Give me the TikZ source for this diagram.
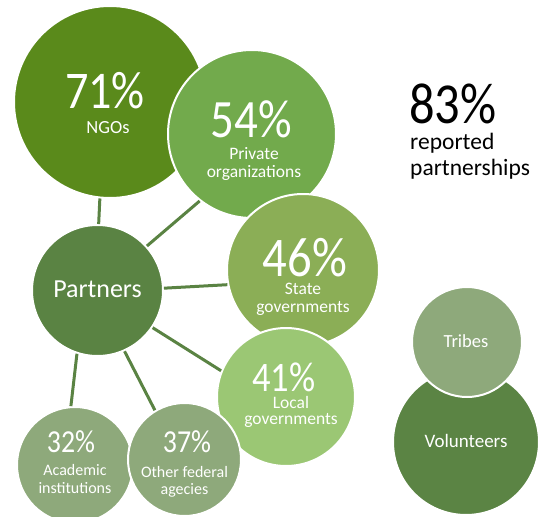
\documentclass[tikz,border=0pt]{standalone}
\usepackage{fontspec}
\setmainfont{Carlito}
\newfontfamily\pctfont[FakeStretch=0.87]{Carlito}
\definecolor{cngo}{HTML}{5A8A1B}
\definecolor{cpriv}{HTML}{72AA4C}
\definecolor{cstate}{HTML}{8BAE56}
\definecolor{clocal}{HTML}{9BC774}
\definecolor{cpart}{HTML}{5A8343}
\definecolor{cgray}{HTML}{8EA97B}
\definecolor{cvol}{HTML}{5B8444}
\definecolor{clink}{HTML}{5A8343}
\begin{document}
\begin{tikzpicture}[x=1pt,y=-1pt,
  bub/.style={circle,draw=white,line width=2pt,inner sep=0pt,minimum size=#1},
  link/.style={draw=clink,line width=3pt},
  lab/.style={text=white,font=\fontsize{17.5}{19}\selectfont,anchor=base,inner sep=0pt},
  pct/.style={text=white,font=\pctfont\fontsize{#1}{#1}\selectfont,anchor=base,inner sep=0pt}]
\useasboundingbox (0,0) rectangle (539,517);
\clip (0,0) rectangle (539,517);
% bubbles
\node[bub=192pt,fill=cngo] (ngo) at (110,102) {};
\node[bub=168pt,fill=cpriv] (private) at (252,134) {};
\node[bub=152pt,fill=cstate] (state) at (303,270) {};
\node[bub=138pt,fill=clocal] (local) at (286,397) {};
\node[bub=131pt,fill=cpart] (partners) at (97.5,290.5) {};
\node[bub=116pt,fill=cgray] (acad) at (75,465) {};
\node[bub=113pt,fill=cgray] (other) at (184.5,459.5) {};
\node[bub=146pt,fill=cvol] (vol) at (466,442) {};
\node[bub=110pt,fill=cgray] (tribes) at (467,342) {};
% links
\draw[link] (partners.89.6) -- (ngo.264);
\draw[link] (partners.42.6) -- (private.232.6);
\draw[link] (partners.2) -- (state.191.7);
\draw[link] (partners.-34.5) -- (local.158.8);
\draw[link] (partners.252.4) -- (acad.94.6);
\draw[link] (partners.294.9) -- (other.121.5);
% texts
\node[pct=53] (ngoP) at (105,108) {71\%};
\node[lab,font=\fontsize{18.5}{19}\selectfont] (ngoL) at (108,133) {NGOs};
\node[pct=54] (privP) at (251,137) {54\%};
\node[lab] (privL1) at (254,159) {Private};
\node[lab] (privL2) at (254,177) {organizations};
\node[pct=56] (stateP) at (305,276) {46\%};
\node[lab] (stateL1) at (303,294) {State};
\node[lab] (stateL2) at (303,312) {governments};
\node[pct=42] (localP) at (284,391) {41\%};
\node[lab] (localL1) at (291,408) {Local};
\node[lab] (localL2) at (291,424) {governments};
\node[pct=32] (acadP) at (71,452) {32\%};
\node[lab,font=\fontsize{16}{17}\selectfont] (acadL1) at (75,475) {Academic};
\node[lab,font=\fontsize{16}{17}\selectfont] (acadL2) at (75,493) {institutions};
\node[pct=32] (otherP) at (187,452) {37\%};
\node[lab,font=\fontsize{16}{17}\selectfont] (otherL1) at (184.5,477) {Other federal};
\node[lab,font=\fontsize{16}{17}\selectfont] (otherL2) at (184.5,494) {agecies};
\node[lab,font=\fontsize{26}{28}\selectfont] (partL) at (97.5,297) {Partners};
\node[lab,font=\fontsize{18.5}{20}\selectfont] (tribL) at (466,347) {Tribes};
\node[lab,font=\fontsize{19}{20}\selectfont] (volL) at (466,447) {Volunteers};
\node[pct=58,text=black,anchor=base west] (totP) at (409,123) {83\%};
\node[font=\fontsize{23.5}{25}\selectfont,anchor=base west,inner sep=0pt] (totL1) at (410,149) {reported};
\node[font=\fontsize{23.5}{25}\selectfont,anchor=base west,inner sep=0pt] (totL2) at (410,175) {partnerships};
\end{tikzpicture}
\end{document}
